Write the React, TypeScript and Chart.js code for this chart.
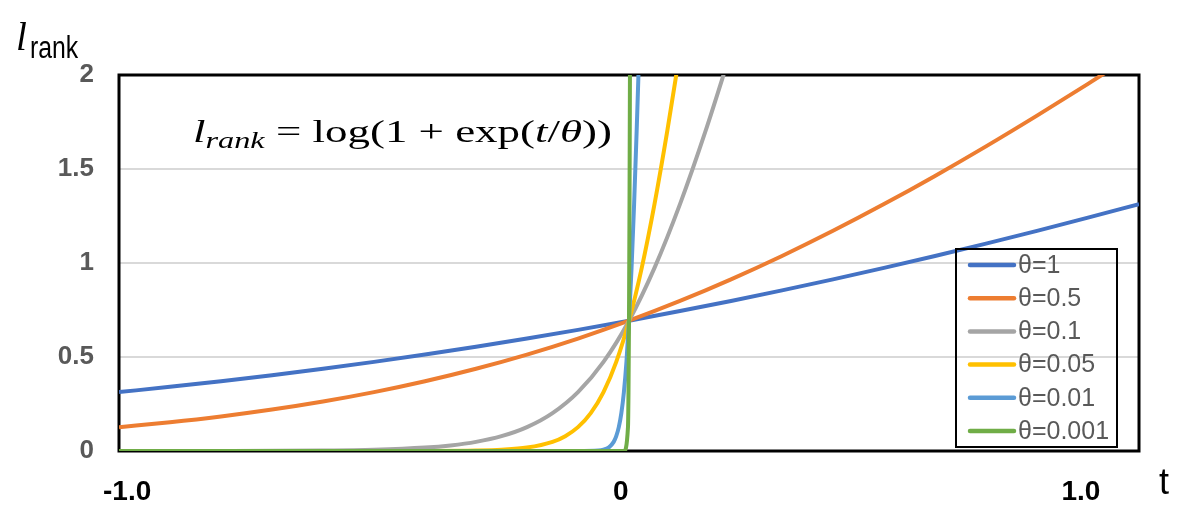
import React, { useEffect, useRef } from "react";
import { Chart, registerables } from "chart.js";

Chart.register(...registerables);

// ---- data ----
const seriesLabels = ["θ=1", "θ=0.5", "θ=0.1", "θ=0.05", "θ=0.01", "θ=0.001"];
const seriesColors = ["#4472C4", "#ED7D31", "#A5A5A5", "#FFC000", "#5B9BD5", "#70AD47"];

const tWide = [-1, -0.9, -0.8, -0.7, -0.6, -0.5, -0.4, -0.3, -0.2, -0.1, 0, 0.1, 0.2, 0.3, 0.4, 0.5, 0.6, 0.7, 0.8, 0.9, 1];
const yTheta1 = [0.3133, 0.3412, 0.3711, 0.4032, 0.4375, 0.4741, 0.513, 0.5544, 0.5981, 0.6444, 0.6931, 0.7444, 0.7981, 0.8544, 0.913, 0.9741, 1.0375, 1.1032, 1.1711, 1.2412, 1.3133];
const yTheta05 = [0.1269, 0.153, 0.1839, 0.2204, 0.2633, 0.3133, 0.3711, 0.4375, 0.513, 0.5981, 0.6931, 0.7981, 0.913, 1.0375, 1.1711, 1.3133, 1.4633, 1.6204, 1.7839, 1.953, 2.1269];

const tTheta01 = [-1, -0.8, -0.6, -0.5, -0.4, -0.35, -0.3, -0.25, -0.2, -0.15, -0.1, -0.05, 0, 0.05, 0.1, 0.15, 0.2];
const yTheta01 = [0.00005, 0.00034, 0.00248, 0.00672, 0.01815, 0.02975, 0.04859, 0.07889, 0.12693, 0.20141, 0.31326, 0.47408, 0.69315, 0.97408, 1.31326, 1.70141, 2.12693];

const tTheta005 = [-1, -0.5, -0.4, -0.3, -0.25, -0.2, -0.15, -0.125, -0.1, -0.075, -0.05, -0.025, 0, 0.025, 0.05, 0.075, 0.1];
const yTheta005 = [0, 0.00005, 0.00034, 0.00248, 0.00672, 0.01815, 0.04859, 0.07889, 0.12693, 0.20141, 0.31326, 0.47408, 0.69315, 0.97408, 1.31326, 1.70141, 2.12693];

const tTheta001 = [-1, -0.1, -0.06, -0.05, -0.04, -0.03, -0.025, -0.02, -0.015, -0.01, -0.005, 0, 0.005, 0.01, 0.015, 0.02];
const yTheta001 = [0, 0.00005, 0.00248, 0.00672, 0.01815, 0.04859, 0.07889, 0.12693, 0.20141, 0.31326, 0.47408, 0.69315, 0.97408, 1.31326, 1.70141, 2.12693];

const tTheta0001 = [-1, -0.01, -0.002, -0.001, 0, 0.001, 0.002];
const yTheta0001 = [0, 0.00005, 0.12693, 0.31326, 0.69315, 1.31326, 2.12693];

const seriesT = [tWide, tWide, tTheta01, tTheta005, tTheta001, tTheta0001];
const seriesY = [yTheta1, yTheta05, yTheta01, yTheta005, yTheta001, yTheta0001];

const yTickValues = [0, 0.5, 1, 1.5, 2];
const yTickLabels = ["0", "0.5", "1", "1.5", "2"];
// x labels sit where the original figure placed them
const xTickValues = [-0.984, -0.016, 0.886];
const xTickLabels = ["-1.0", "0", "1.0"];

const decorPlugin = {
  id: "decor",
  beforeDatasetsDraw(chart: any) {
    const { ctx, chartArea } = chart;
    ctx.save();
    ctx.strokeStyle = "#000";
    ctx.lineWidth = 3;
    ctx.strokeRect(chartArea.left, chartArea.top, chartArea.right - chartArea.left, chartArea.bottom - chartArea.top);
    ctx.restore();
  },
  afterDraw(chart: any) {
    const { ctx, chartArea } = chart;
    const L = chartArea.left, T = chartArea.top, R = chartArea.right, B = chartArea.bottom;
    ctx.save();

    // legend box
    const bx = R - 183, by = T + 174, bw = 161, bh = 198;
    ctx.strokeStyle = "#000";
    ctx.lineWidth = 2;
    ctx.strokeRect(bx, by, bw, bh);
    ctx.font = "25px 'Liberation Sans', Arial, sans-serif";
    ctx.textBaseline = "middle";
    ctx.textAlign = "left";
    seriesLabels.forEach((lab, i) => {
      const yy = by + 16 + i * 33.2;
      ctx.strokeStyle = seriesColors[i];
      ctx.lineWidth = 4.5;
      ctx.lineCap = "round";
      ctx.beginPath();
      ctx.moveTo(bx + 14, yy);
      ctx.lineTo(bx + 58, yy);
      ctx.stroke();
      ctx.fillStyle = "#595959";
      ctx.fillText(lab, bx + 62, yy + 1);
    });

    // equation
    const pieces: [string, string, number][] = [
      ["l", "italic 32px 'Liberation Serif', serif", 0],
      ["rank", "italic 23px 'Liberation Serif', serif", 6],
      [" = ", "32px 'Liberation Serif', serif", 0],
      ["log(1 + exp(", "32px 'Liberation Serif', serif", 0],
      ["t", "italic 32px 'Liberation Serif', serif", 0],
      ["/", "32px 'Liberation Serif', serif", 0],
      ["θ", "italic 32px 'Liberation Serif', serif", 0],
      ["))", "32px 'Liberation Serif', serif", 0],
    ];
    let total = 0;
    pieces.forEach(([s, f]) => { ctx.font = f; total += ctx.measureText(s).width; });
    const target = 419;
    const sx = target / total;
    ctx.save();
    ctx.translate(L + 74, T + 67);
    ctx.scale(sx, 1);
    ctx.fillStyle = "#000";
    ctx.textBaseline = "alphabetic";
    let cx = 0;
    pieces.forEach(([s, f, dy]) => {
      ctx.font = f;
      ctx.fillText(s, cx, dy);
      cx += ctx.measureText(s).width;
    });
    ctx.restore();

    // axis titles
    ctx.fillStyle = "#000";
    ctx.textBaseline = "alphabetic";
    ctx.font = "italic 39px 'Liberation Serif', serif";
    ctx.fillText("l", L - 103, T - 25);
    ctx.save();
    ctx.translate(L - 89, T - 17);
    ctx.scale(0.8, 1);
    ctx.font = "31px 'Liberation Sans', Arial, sans-serif";
    ctx.fillText("rank", 0, 0);
    ctx.restore();

    ctx.textAlign = "center";
    ctx.font = "36px 'Liberation Sans', Arial, sans-serif";
    ctx.fillText("t", R + 25, B + 43);
    ctx.restore();
  },
};

export default function App() {
  const ref = useRef<HTMLCanvasElement>(null);
  useEffect(() => {
    if (!ref.current) return;
    const datasets = seriesLabels.map((lab, i) => ({
      label: lab,
      data: seriesT[i].map((t, k) => ({ x: t, y: seriesY[i][k] })),
      borderColor: seriesColors[i],
      backgroundColor: seriesColors[i],
      borderWidth: 4,
      pointRadius: 0,
      fill: false,
      cubicInterpolationMode: "monotone" as const,
      clip: 0,
      order: seriesLabels.length - i,
    }));
    const chart = new Chart(ref.current, {
      type: "line",
      data: { datasets },
      options: {
        animation: false,
        responsive: false,
        layout: { padding: { top: 75, right: 55, bottom: 0, left: 0 } },
        plugins: { legend: { display: false }, tooltip: { enabled: false } },
        scales: {
          x: {
            type: "linear",
            min: -1,
            max: 1,
            afterBuildTicks: (s: any) => { s.ticks = xTickValues.map((v) => ({ value: v })); },
            afterFit: (s: any) => { s.height = 67; s.paddingLeft = 0; s.paddingRight = 0; },
            grid: { display: false, drawTicks: false, tickLength: 0 },
            border: { display: false },
            ticks: {
              autoSkip: false,
              maxRotation: 0,
              padding: 24,
              color: "#000",
              font: { family: "'Liberation Sans', Arial, sans-serif", size: 28, weight: "bold" },
              callback: (_v: any, i: number) => xTickLabels[i],
            },
          },
          y: {
            type: "linear",
            min: 0,
            max: 2,
            afterBuildTicks: (s: any) => { s.ticks = yTickValues.map((v) => ({ value: v })); },
            afterFit: (s: any) => { s.width = 119; },
            grid: { color: "#D9D9D9", lineWidth: 2, drawTicks: false, tickLength: 0 },
            border: { display: false },
            ticks: {
              padding: 25,
              color: "#595959",
              font: { family: "'Liberation Sans', Arial, sans-serif", size: 26, weight: "bold" },
              callback: (_v: any, i: number) => yTickLabels[i],
            },
          },
        },
      },
      plugins: [decorPlugin],
    });
    return () => chart.destroy();
  }, []);
  return (
    <div style={{ position: "fixed", left: 0, top: 0, width: 1194, height: 518, background: "#fff" }}>
      <canvas ref={ref} width={1194} height={518} />
    </div>
  );
}
